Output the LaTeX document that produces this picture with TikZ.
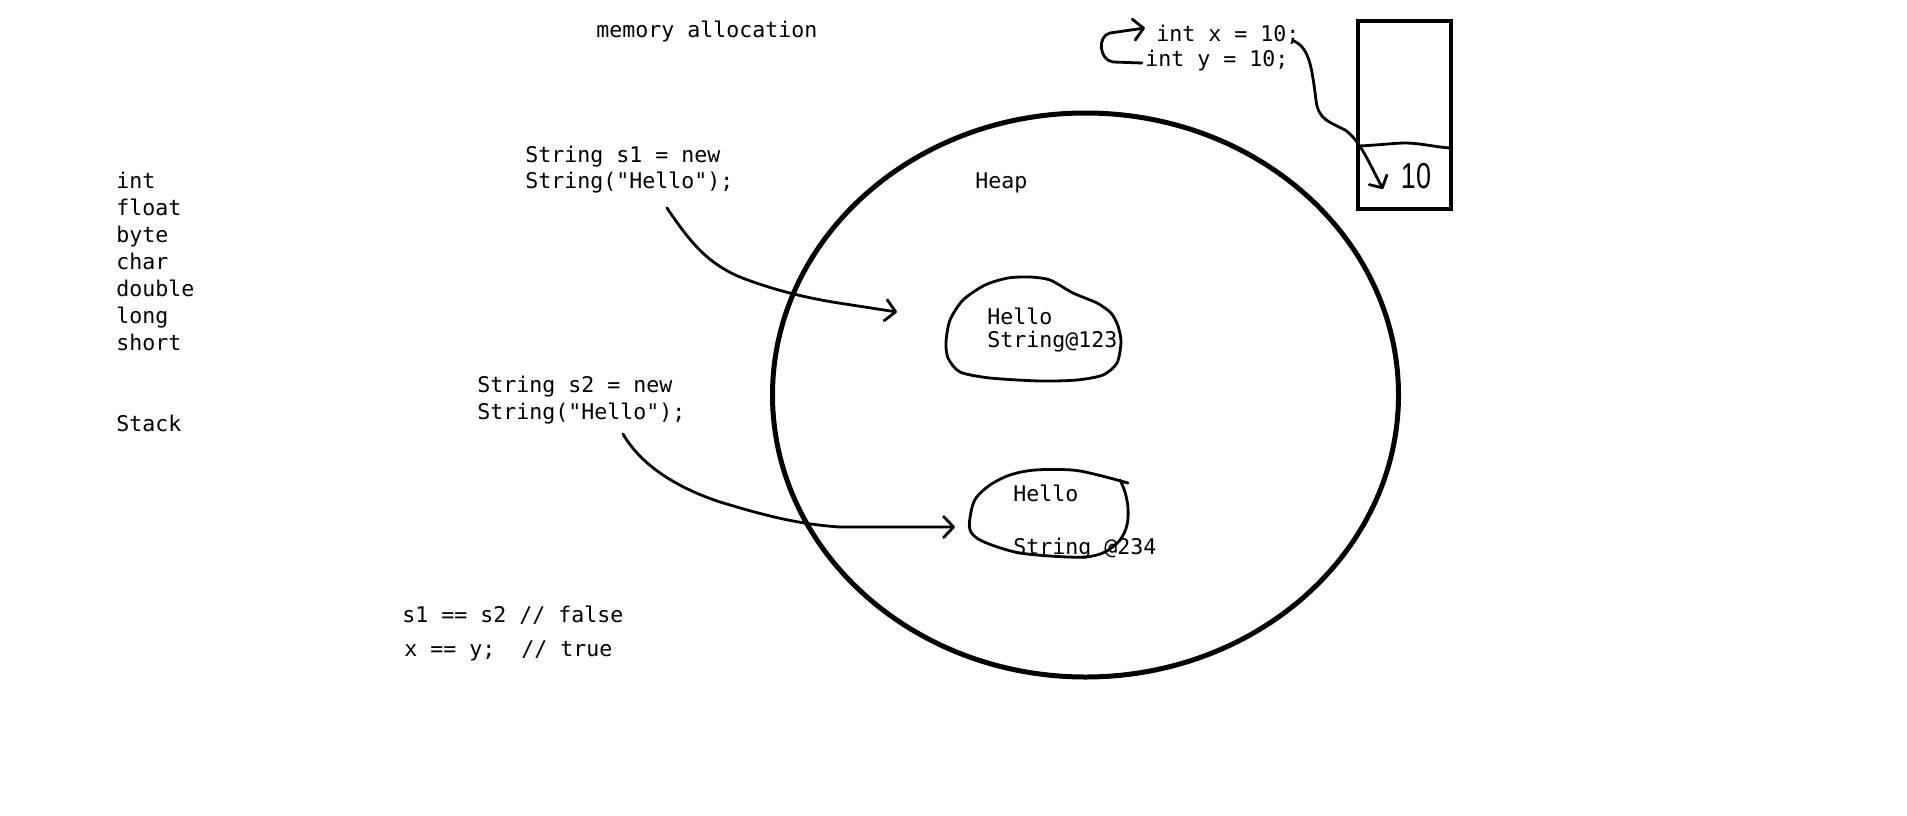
\documentclass[tikz,border=0pt]{standalone}
\usepackage{fontspec}
\setmonofont{DejaVu Sans Mono}
\newfontfamily\handfont{Liberation Sans}
\usetikzlibrary{arrows.meta,shapes.geometric}

\begin{document}
\begin{tikzpicture}[x=0.5pt,y=-0.5pt,
  code/.style={anchor=base west,inner sep=0pt,font=\ttfamily\fontsize{10.8}{13}\selectfont},
  pen/.style={line width=1.4pt,line cap=round,line join=round},
  barb/.style={-{Straight Barb[length=5pt,width=10.5pt,round]}}]
\useasboundingbox (0,0) rectangle (1907,815);

%title
\node[code] (title) at (596,37) {memory allocation};

%primitive types
\foreach \t [count=\i] in {int,float,byte,char,double,long,short}
  \node[code] (type\i) at (116,161+27*\i) {\t};
\node[code] (stack) at (116,431) {Stack};

%s1 and s2
\node[code] (s1new) at (525,162) {String s1 = new};
\node[code] (s1str) at (525,188) {String("Hello");};
\node[code] (s2new) at (477,392) {String s2 = new};
\node[code] (s2str) at (477,419) {String("Hello");};

%compare
\node[code] (cmps) at (402,622) {s1 == s2 // false};
\node[code] (cmpxy) at (404,656) {x == y;\ \ // true};

%heap
\node[draw,ellipse,line width=2.5pt,inner sep=0pt,minimum width=313pt,minimum height=282pt] (heap) at (1085.5,395) {};
\node[code] (heaplbl) at (975,188) {Heap};

%object 1
\node[code] (obj1a) at (987,324) {Hello};
\node[code] (obj1b) at (987,347) {String@123};
\draw[pen] plot[smooth cycle,tension=0.45] coordinates {(1008,278) (1030,277) (1050,280) (1073,293)
  (1097,303) (1111,313) (1118,326) (1121,342) (1117,363) (1103,375) (1077,380) (1040,381)
  (990,378) (960,372) (948,358) (946,342) (950,320) (963,300) (985,285)};

%object 2
\node[code] (obj2a) at (1013,501) {Hello};
\node[code] (obj2b) at (1013,554) {String @234};
\draw[pen] plot[smooth,tension=0.55] coordinates {(1128,483) (1098,475) (1072,470) (1035,470)
  (1010,475) (990,485) (976,498) (971,512) (970,530) (982,541) (1015,552) (1050,556)
  (1085,557) (1105,552) (1120,540) (1127,525) (1128,508) (1125,492) (1120,480)};

%references
\coordinate (ref1s) at (667,208);
\coordinate (ref1e) at (897,312);
\draw[pen,barb] (ref1s) .. controls (690,242) and (708,265) .. (745,279)
  .. controls (775,290) and (805,298) .. (845,304) -- (ref1e);
\coordinate (ref2s) at (623,434);
\coordinate (ref2e) at (955,527);
\draw[pen,barb] (ref2s) .. controls (640,463) and (672,486) .. (720,502)
  .. controls (760,514) and (795,524) .. (840,527) -- (ref2e);

%stack box
\node[draw,line width=2pt,inner sep=0pt,minimum width=46.5pt,minimum height=94pt] (box) at (1404.5,115) {};
\draw[pen] (1359,146) .. controls (1380,145) and (1395,143) .. (1405,143)
  .. controls (1420,143) and (1435,147) .. (1450,148);
\node[inner sep=0pt,font=\handfont\fontsize{18}{18}\selectfont] (ten) at (1416,176) {\scalebox{0.75}[1]{10}};

%int x, int y
\node[code] (intx) at (1156,41) {int x = 10;};
\node[code] (inty) at (1145,66) {int y = 10;};
\coordinate (cell) at (1383,189);
\draw[pen,-{Straight Barb[length=4.5pt,width=10pt,round]}] ([xshift=-3pt]intx.base east)
  .. controls (1310,48) and (1312,70) .. (1316,100)
  .. controls (1318,120) and (1330,122) .. (1345,130)
  .. controls (1360,140) and (1370,165) .. (cell);
\draw[pen,barb] ([shift={(-3,-3)}]inty.base west) -- (1113,62)
  .. controls (1099,60) and (1097,36) .. (1110,33) -- ([shift={(-11,-13)}]intx.base west);
\end{tikzpicture}
\end{document}
